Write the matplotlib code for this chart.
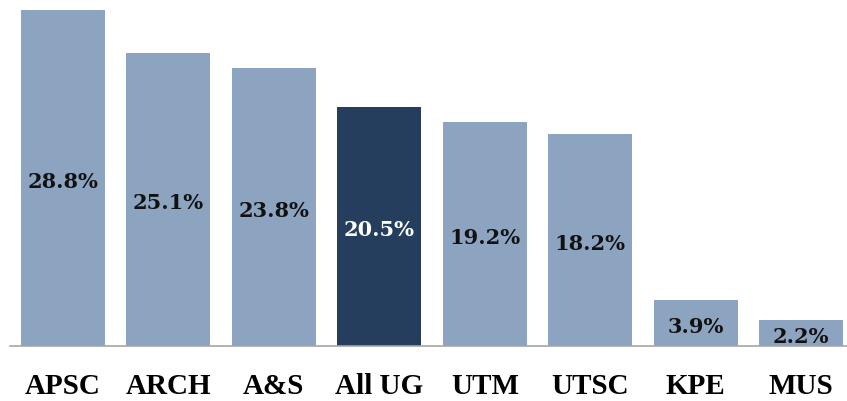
import matplotlib
matplotlib.use("Agg")
import matplotlib.pyplot as plt

categories = ["APSC", "ARCH", "A&S", "All UG", "UTM", "UTSC", "KPE", "MUS"]
values = [28.8, 25.1, 23.8, 20.5, 19.2, 18.2, 3.9, 2.2]
highlight = "All UG"

light = "#8DA4C1"
dark = "#253E5E"

fig = plt.figure(figsize=(8.47, 4.02), dpi=100)
ax = fig.add_axes([10/847, 55/402, 844/847, 347/402])

colors = [dark if c == highlight else light for c in categories]
x = list(range(len(categories)))
bars = ax.bar(x, values, width=0.8, color=colors)

for xi, v, c in zip(x, values, categories):
    ax.annotate(f"{v:.1f}%", xy=(xi, v / 2), xytext=(0, -2),
                textcoords="offset points", ha="center", va="center",
                fontsize=15, fontweight="bold", family="DejaVu Serif",
                color="white" if c == highlight else "#111111")

ax.set_xlim(-0.5, len(categories) - 0.5)
ax.set_ylim(0, 29.74)
ax.set_xticks(x)
ax.set_xticklabels(categories, fontsize=21, fontweight="bold", family="Liberation Serif")
ax.tick_params(axis="x", length=0, pad=19)
ax.set_yticks([])
for s in ["top", "left", "right"]:
    ax.spines[s].set_visible(False)
ax.spines["bottom"].set_color("#A6A6A6")
ax.spines["bottom"].set_linewidth(1.2)

fig.savefig("out.png", dpi=100)
